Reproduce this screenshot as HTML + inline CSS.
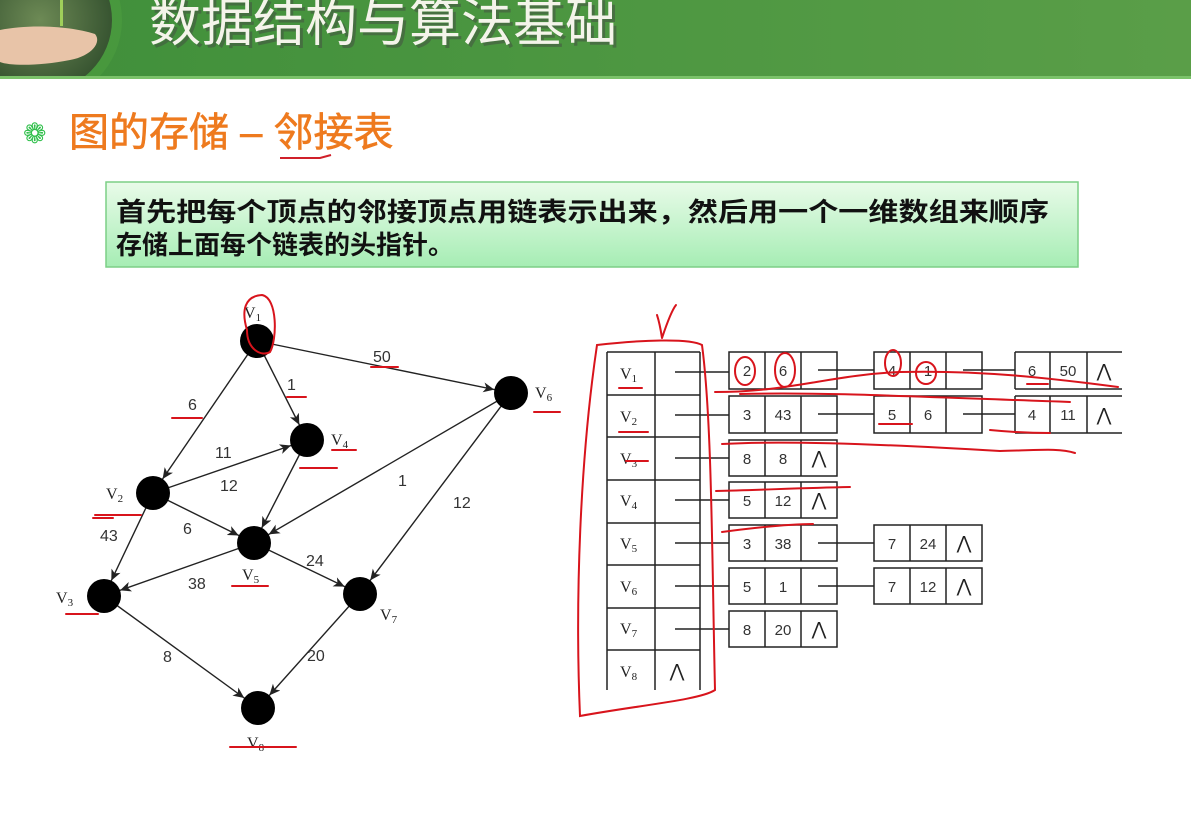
<!DOCTYPE html>
<html><head><meta charset="utf-8"><style>
html,body{margin:0;padding:0;background:#fff;width:1191px;height:839px;overflow:hidden}
</style></head><body>
<svg width="1191" height="839" viewBox="0 0 1191 839" xmlns="http://www.w3.org/2000/svg" font-family="'Liberation Serif','Noto Serif CJK SC',serif">
<defs>
<linearGradient id="hg" x1="0" x2="1"><stop offset="0" stop-color="#3f8f3a"/><stop offset="1" stop-color="#5a9e48"/></linearGradient>
<linearGradient id="bg" x1="0" y1="0" x2="0" y2="1"><stop offset="0" stop-color="#e9fbe9"/><stop offset="1" stop-color="#a6edb4"/></linearGradient>
<radialGradient id="ph" cx="0.5" cy="0.5" r="0.6"><stop offset="0" stop-color="#6d8a55"/><stop offset="1" stop-color="#2d4a2a"/></radialGradient>
<clipPath id="hc"><rect x="0" y="0" width="1191" height="77"/></clipPath>
<marker id="ar" markerUnits="userSpaceOnUse" markerWidth="40" markerHeight="14" refX="28" refY="5" orient="auto"><path d="M0,0 L11,5 L0,10 L3,5 Z" fill="#222"/></marker>
</defs>
<!-- header -->
<rect x="0" y="0" width="1191" height="78" fill="url(#hg)"/>
<g clip-path="url(#hc)">
<circle cx="40" cy="20" r="82" fill="#4a9a3e" opacity="0.8"/>
<circle cx="40" cy="20" r="72" fill="url(#ph)"/>
<path d="M0,30 C30,24 70,26 95,34 C102,42 92,56 70,60 C40,66 10,66 0,62 Z" fill="#e8c4a8"/>
<rect x="60" y="0" width="3" height="26" fill="#9fcf5a"/>
</g>
<rect x="0" y="76" width="1191" height="3" fill="#7bc26a"/>
<text x="152" y="44" font-family="'Liberation Sans','Noto Sans CJK SC',sans-serif" font-size="52" fill="#444" opacity="0.45">数据结构与算法基础</text>
<text x="149" y="41" font-family="'Liberation Sans','Noto Sans CJK SC',sans-serif" font-size="52" fill="#f4f4ea">数据结构与算法基础</text>
<!-- subtitle -->
<text x="23" y="143" font-size="28" fill="#2fbf4a">❁</text>
<text x="69" y="146" font-family="'Liberation Sans','Noto Sans CJK SC',sans-serif" font-size="40" fill="#ee7a1e" stroke="#ee7a1e" stroke-width="0.6">图的存储 – 邻接表</text>
<path d="M280,158 L320,158 L331,155" stroke="#d0202a" stroke-width="2" fill="none"/>
<!-- green box -->
<rect x="106" y="182" width="972" height="85" fill="url(#bg)" stroke="#7ccf86" stroke-width="1.5"/>
<text font-family="'Liberation Sans','Noto Sans CJK SC',sans-serif" font-weight="bold" font-size="26" fill="#111">
<tspan x="116" y="221" textLength="933" lengthAdjust="spacingAndGlyphs">首先把每个顶点的邻接顶点用链表示出来，然后用一个一维数组来顺序</tspan>
<tspan x="116" y="254">存储上面每个链表的头指针。</tspan></text>

<!-- graph edges -->
<g stroke="#222" stroke-width="1.4" marker-end="url(#ar)">
<line x1="257" y1="341" x2="153" y2="493"/>
<line x1="257" y1="341" x2="307" y2="440"/>
<line x1="257" y1="341" x2="511" y2="393"/>
<line x1="153" y1="493" x2="307" y2="440"/>
<line x1="153" y1="493" x2="254" y2="543"/>
<line x1="153" y1="493" x2="104" y2="596"/>
<line x1="307" y1="440" x2="254" y2="543"/>
<line x1="511" y1="393" x2="254" y2="543"/>
<line x1="511" y1="393" x2="360" y2="594"/>
<line x1="254" y1="543" x2="104" y2="596"/>
<line x1="254" y1="543" x2="360" y2="594"/>
<line x1="104" y1="596" x2="258" y2="708"/>
<line x1="360" y1="594" x2="258" y2="708"/>
</g>
<g fill="#000">
<circle cx="257" cy="341" r="17"/><circle cx="511" cy="393" r="17"/><circle cx="307" cy="440" r="17"/>
<circle cx="153" cy="493" r="17"/><circle cx="254" cy="543" r="17"/><circle cx="104" cy="596" r="17"/>
<circle cx="360" cy="594" r="17"/><circle cx="258" cy="708" r="17"/>
</g>
<g font-family="'Liberation Sans',sans-serif" font-size="16" fill="#333">
<text x="373" y="362">50</text><text x="287" y="390">1</text><text x="188" y="410">6</text>
<text x="215" y="458">11</text><text x="220" y="491">12</text><text x="398" y="486">1</text>
<text x="453" y="508">12</text><text x="100" y="541">43</text><text x="183" y="534">6</text>
<text x="306" y="566">24</text><text x="188" y="589">38</text><text x="163" y="662">8</text>
<text x="307" y="661">20</text>
</g>
<g font-size="16" fill="#222">
<text x="244" y="318">V<tspan font-size="11" dy="3">1</tspan></text>
<text x="535" y="398">V<tspan font-size="11" dy="3">6</tspan></text>
<text x="331" y="445">V<tspan font-size="11" dy="3">4</tspan></text>
<text x="106" y="499">V<tspan font-size="11" dy="3">2</tspan></text>
<text x="242" y="580">V<tspan font-size="11" dy="3">5</tspan></text>
<text x="56" y="603">V<tspan font-size="11" dy="3">3</tspan></text>
<text x="380" y="620">V<tspan font-size="11" dy="3">7</tspan></text>
<text x="247" y="748">V<tspan font-size="11" dy="3">8</tspan></text>
</g>

<!-- adjacency table -->
<g stroke="#222" stroke-width="1.5" fill="none">
<path d="M607,352 V690 M655,352 V690 M700,352 V690"/>
<path d="M607,352 H700 M607,395 H700 M607,437 H700 M607,480 H700 M607,523 H700 M607,565 H700 M607,608 H700 M607,650 H700"/>
<path d="M675,372 H729 M675,415 H729 M675,458 H729 M675,500 H729 M675,543 H729 M675,586 H729 M675,629 H729"/>
<rect x="729" y="352" width="108" height="37"/><path d="M765,352V389M801,352V389M818,370H874"/>
<rect x="874" y="352" width="108" height="37"/><path d="M910,352V389M946,352V389M963,370H1015"/>
<path d="M1015,352V389M1050,352V389M1087,352V389M1015,352H1122M1015,389H1122"/>
<rect x="729" y="396" width="108" height="37"/><path d="M765,396V433M801,396V433M818,414H874"/>
<rect x="874" y="396" width="108" height="37"/><path d="M910,396V433M946,396V433M963,414H1015"/>
<path d="M1015,396V433M1050,396V433M1087,396V433M1015,396H1122M1015,433H1122"/>
<rect x="729" y="440" width="108" height="36"/><path d="M765,440V476M801,440V476"/>
<rect x="729" y="482" width="108" height="36"/><path d="M765,482V518M801,482V518"/>
<rect x="729" y="525" width="108" height="36"/><path d="M765,525V561M801,525V561M818,543H874"/>
<rect x="874" y="525" width="108" height="36"/><path d="M910,525V561M946,525V561"/>
<rect x="729" y="568" width="108" height="36"/><path d="M765,568V604M801,568V604M818,586H874"/>
<rect x="874" y="568" width="108" height="36"/><path d="M910,568V604M946,568V604"/>
<rect x="729" y="611" width="108" height="36"/><path d="M765,611V647M801,611V647"/>
</g>
<g font-size="16" fill="#222">
<text x="620" y="379">V<tspan font-size="11" dy="3">1</tspan></text>
<text x="620" y="422">V<tspan font-size="11" dy="3">2</tspan></text>
<text x="620" y="464">V<tspan font-size="11" dy="3">3</tspan></text>
<text x="620" y="506">V<tspan font-size="11" dy="3">4</tspan></text>
<text x="620" y="549">V<tspan font-size="11" dy="3">5</tspan></text>
<text x="620" y="592">V<tspan font-size="11" dy="3">6</tspan></text>
<text x="620" y="634">V<tspan font-size="11" dy="3">7</tspan></text>
<text x="620" y="677">V<tspan font-size="11" dy="3">8</tspan></text>
</g>
<g font-family="'Liberation Sans',sans-serif" font-size="15" fill="#333" text-anchor="middle">
<text x="747" y="376">2</text><text x="783" y="376">6</text>
<text x="892" y="376">4</text><text x="928" y="376">1</text>
<text x="1032" y="376">6</text><text x="1068" y="376">50</text>
<text x="747" y="420">3</text><text x="783" y="420">43</text>
<text x="892" y="420">5</text><text x="928" y="420">6</text>
<text x="1032" y="420">4</text><text x="1068" y="420">11</text>
<text x="747" y="464">8</text><text x="783" y="464">8</text>
<text x="747" y="506">5</text><text x="783" y="506">12</text>
<text x="747" y="549">3</text><text x="783" y="549">38</text>
<text x="892" y="549">7</text><text x="928" y="549">24</text>
<text x="747" y="592">5</text><text x="783" y="592">1</text>
<text x="892" y="592">7</text><text x="928" y="592">12</text>
<text x="747" y="635">8</text><text x="783" y="635">20</text>
</g>
<g font-family="'Liberation Sans',sans-serif" font-size="18" fill="#222" text-anchor="middle">
<text x="1104" y="377">⋀</text><text x="1104" y="421">⋀</text>
<text x="819" y="464">⋀</text><text x="819" y="506">⋀</text>
<text x="964" y="549">⋀</text><text x="964" y="592">⋀</text>
<text x="819" y="635">⋀</text><text x="677" y="677">⋀</text>
</g>

<!-- red annotations -->
<g stroke="#d8141c" stroke-width="2" fill="none" stroke-linecap="round">
<path d="M597,345 C640,340 690,338 702,345 C712,420 712,560 715,690 C700,700 640,705 580,716 C575,600 580,460 597,345 Z"/>
<path d="M662,338 C668,320 672,310 676,305 M662,338 C660,325 658,318 657,315"/>
<path d="M715,392 C790,392 830,375 900,372 C980,370 1050,378 1118,387"/>
<path d="M740,394 C820,392 900,396 1070,402"/>
<path d="M722,444 C790,440 900,445 1000,451 C1040,450 1060,448 1075,453"/>
<path d="M716,491 C760,490 800,488 850,487"/>
<path d="M722,532 C760,527 790,524 813,524"/>
<ellipse cx="745" cy="371" rx="10" ry="14"/><ellipse cx="785" cy="370" rx="10" ry="17"/>
<ellipse cx="893" cy="363" rx="8" ry="13"/><ellipse cx="926" cy="373" rx="10" ry="11"/>
<path d="M247,330 C241,310 245,296 262,295 C278,298 277,340 270,352 C262,357 247,350 247,330"/>
<path d="M371,367 H398 M287,397 H306 M172,418 H202 M300,468 H337 M93,518 H113 M95,515 H141 M232,586 H268 M66,614 H98 M230,747 H296 M534,412 H560 M332,450 H356"/>
<path d="M619,388 H642 M619,432 H648 M626,461 H648 M1027,384 H1048 M879,424 H912 M990,430 C1010,432 1030,433 1050,433"/>
</g>
</svg>
</body></html>
